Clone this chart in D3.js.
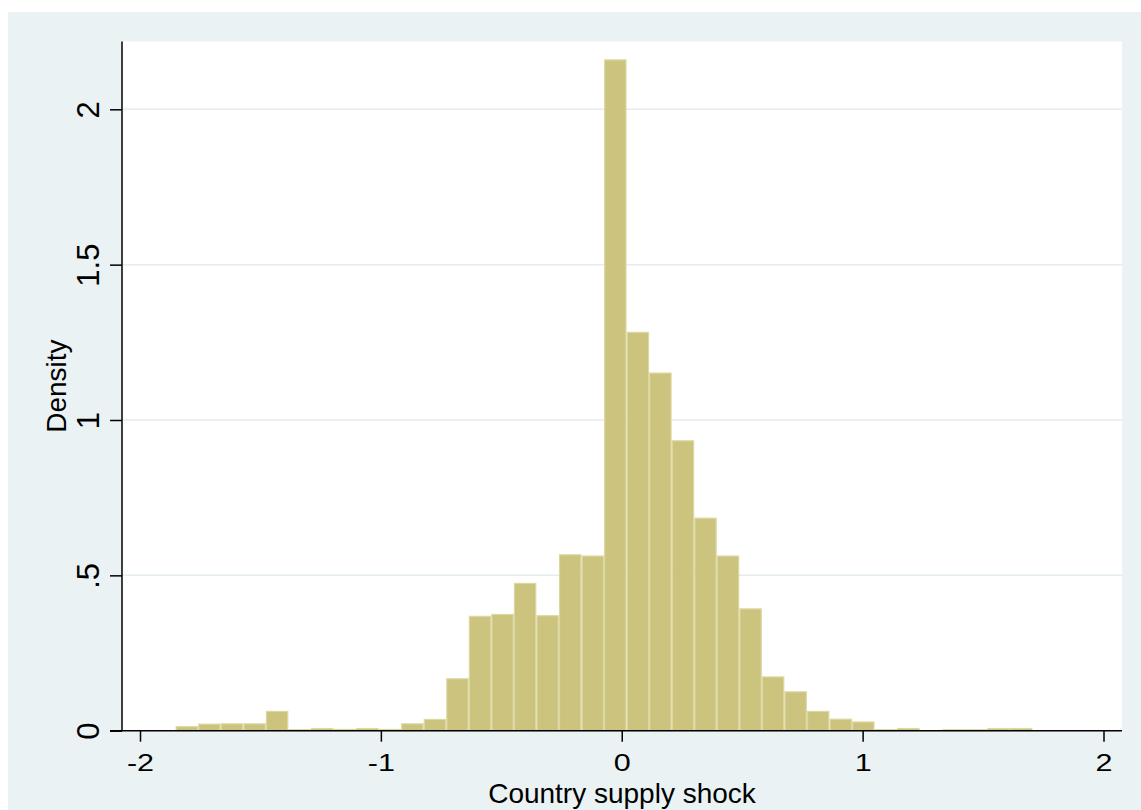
<!DOCTYPE html>
<html>
<head>
<meta charset="utf-8">
<script src="https://cdn.jsdelivr.net/npm/d3@7"></script>
<style>
  html, body { margin: 0; padding: 0; background: #fff; }
  svg { display: block; font-family: "Liberation Sans", Arial, Helvetica, sans-serif; }
</style>
</head>
<body>
<svg id="chart"></svg>
<script>
// Histogram: Country supply shock (density), 38 bins

const binStart = -1.852;
const binWidth = 0.0936;
const densities = [
  0.015, 0.023, 0.024, 0.024, 0.064, 0.005, 0.009, 0.006, 0.009, 0.006,
  0.024, 0.038, 0.169, 0.370, 0.376, 0.476, 0.372, 0.568, 0.564, 2.161,
  1.284, 1.153, 0.935, 0.686, 0.564, 0.394, 0.175, 0.127, 0.064, 0.039,
  0.030, 0.005, 0.009, 0.002, 0.005, 0.005, 0.009, 0.009
];
const xTicks = [-2, -1, 0, 1, 2];
const yTicks = [0, 0.5, 1, 1.5, 2];
const yTickLabels = ["0", ".5", "1", "1.5", "2"];
const xTitle = "Country supply shock";
const yTitle = "Density";

const width = 1141, height = 810;
const plot = { left: 122, right: 1122, top: 41.5, bottom: 730.7 };

const svg = d3.select("#chart")
  .attr("width", width)
  .attr("height", height)
  .attr("viewBox", `0 0 ${width} ${height}`);

// outer graph region + white plot region
svg.append("rect")
  .attr("x", 8).attr("y", 12)
  .attr("width", width - 8).attr("height", height - 12)
  .attr("fill", "#eaf2f3");
svg.append("rect")
  .attr("x", plot.left).attr("y", plot.top)
  .attr("width", plot.right - plot.left).attr("height", plot.bottom - plot.top)
  .attr("fill", "#ffffff");

const x = d3.scaleLinear().domain([-2, 2]).range([140, 1103.5]);
const y = d3.scaleLinear().domain([0, 2]).range([plot.bottom, 109.3]);

const bins = densities.map((d, i) => ({
  x0: binStart + i * binWidth,
  x1: binStart + (i + 1) * binWidth,
  value: d
}));

// gridlines
svg.append("g")
  .selectAll("line")
  .data(yTicks.filter(t => t > 0))
  .join("line")
  .attr("x1", plot.left).attr("x2", plot.right)
  .attr("y1", d => y(d)).attr("y2", d => y(d))
  .attr("stroke", "#e3ecee")
  .attr("stroke-width", 1.5);

// bars
svg.append("g")
  .selectAll("rect")
  .data(bins)
  .join("rect")
  .attr("x", d => x(d.x0) + 0.6)
  .attr("y", d => y(d.value) + 0.6)
  .attr("width", d => x(d.x1) - x(d.x0) - 1.2)
  .attr("height", d => Math.max(0, y(0) - y(d.value) - 0.6))
  .attr("fill", "#cbc37e")
  .attr("stroke", "#dcd8a2")
  .attr("stroke-width", 1.2);

// x axis
const xAxisG = svg.append("g")
  .attr("transform", `translate(0,${plot.bottom})`)
  .call(d3.axisBottom(x).tickValues(xTicks).tickFormat(d3.format("d")).tickSize(11).tickSizeOuter(0));
xAxisG.select(".domain").remove();
xAxisG.append("line")
  .attr("x1", plot.left - 12).attr("x2", plot.right)
  .attr("stroke", "#000").attr("stroke-width", 1.5);
xAxisG.selectAll(".tick line").attr("stroke", "#000").attr("stroke-width", 1.5);
xAxisG.selectAll(".tick text")
  .attr("y", 40.5)
  .attr("dy", 0)
  .attr("fill", "#000")
  .attr("font-size", 23.5)
  .attr("font-family", "Liberation Sans, Arial, sans-serif")
  .attr("transform", "scale(1.3,1)")
  .text(d => d < 0 ? "-" + Math.abs(d) : d);

// y axis
const yAxisG = svg.append("g")
  .attr("transform", `translate(${plot.left},0)`)
  .call(d3.axisLeft(y).tickValues(yTicks).tickFormat((d, i) => yTickLabels[i]).tickSize(12).tickSizeOuter(0));
yAxisG.select(".domain").remove();
yAxisG.append("line")
  .attr("y1", plot.top).attr("y2", plot.bottom)
  .attr("stroke", "#000").attr("stroke-width", 1.5);
yAxisG.selectAll(".tick line").attr("stroke", "#000").attr("stroke-width", 1.5);
yAxisG.selectAll(".tick text")
  .attr("x", 0).attr("dy", 0)
  .attr("text-anchor", "middle")
  .attr("fill", "#000")
  .attr("font-size", 31)
  .attr("font-family", "Liberation Sans, Arial, sans-serif")
  .attr("transform", "translate(-23,0) rotate(-90)");

// axis titles
svg.append("text")
  .attr("x", (plot.left + plot.right) / 2)
  .attr("y", 803)
  .attr("text-anchor", "middle")
  .attr("font-size", 28)
  .attr("fill", "#000")
  .text(xTitle);

svg.append("text")
  .attr("transform", `translate(66,${(plot.top + plot.bottom) / 2}) rotate(-90)`)
  .attr("text-anchor", "middle")
  .attr("font-size", 28)
  .attr("fill", "#000")
  .text(yTitle);
</script>
</body>
</html>
